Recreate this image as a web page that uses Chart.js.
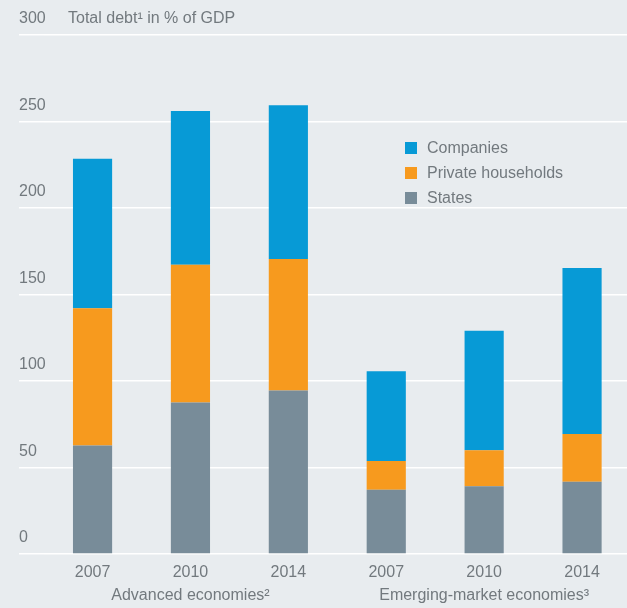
<!DOCTYPE html>
<html>
<head>
<meta charset="utf-8">
<script src="https://cdn.jsdelivr.net/npm/chart.js@4"></script>
<style>
    html, body {
        margin: 0;
        padding: 0;
        background: #e8ecef;
        overflow: hidden;
    }
    #wrap {
        width: 631px;
        height: 608px;
    }
</style>
</head>
<body>
<div id="wrap"><canvas id="chart"></canvas></div>
<script>
    const years = ["2007", "2010", "2014", "2007", "2010", "2014"];
    const groups = ["", "Advanced economies²", "", "", "Emerging-market economies³", ""];

    const states = [62.7, 87.6, 94.5, 37.2, 39.2, 41.8];
    const households = [79.3, 79.6, 76.0, 16.6, 20.8, 27.6];
    const companies = [86.4, 88.8, 88.9, 51.9, 69.1, 95.9];

    const yTicks = [0, 50, 100, 150, 200, 250, 300];

    const textColor = '#72797e';
    const fontFamily = '"Liberation Sans", Arial, sans-serif';

    // title and legend are drawn by hand, the legend sits inside the plot
    const extras = {
        id: 'extras',
        afterDraw(chart) {
            const ctx = chart.ctx;
            const area = chart.chartArea;
            ctx.save();
            ctx.font = '16px ' + fontFamily;
            ctx.fillStyle = textColor;
            ctx.textAlign = 'left';
            ctx.textBaseline = 'middle';
            ctx.fillText('Total debt¹ in % of GDP', 68, area.top - 16);

            const items = chart.data.datasets.slice().reverse();
            items.forEach((ds, i) => {
                const y = 148 + i * 25;
                ctx.fillStyle = ds.backgroundColor;
                ctx.fillRect(405, y - 6, 12, 12);
                ctx.fillStyle = textColor;
                ctx.fillText(ds.label, 427, y + 1);
            });
            ctx.restore();
        }
    };

    new Chart(
        document.getElementById("chart"),
        {
            type: 'bar',
            data: {
                labels: years.map((y, i) => [y, groups[i]]),
                datasets: [
                    {
                        label: 'States',
                        data: states,
                        backgroundColor: '#788c99'
                    },
                    {
                        label: 'Private households',
                        data: households,
                        backgroundColor: '#f79a1e'
                    },
                    {
                        label: 'Companies',
                        data: companies,
                        backgroundColor: '#079ad6'
                    }
                ]
            },
            options: {
                responsive: true,
                maintainAspectRatio: false,
                animation: false,
                datasets: {
                    bar: {
                        barPercentage: 0.4,
                        categoryPercentage: 1,
                        borderWidth: 0
                    }
                },
                layout: {
                    padding: {
                        top: 35,
                        left: 19,
                        right: 0,
                        bottom: 0
                    }
                },
                scales: {
                    x: {
                        stacked: true,
                        grid: {
                            display: false,
                            drawTicks: false
                        },
                        border: {
                            display: false
                        },
                        ticks: {
                            color: textColor,
                            padding: 7,
                            maxRotation: 0,
                            autoSkip: false,
                            font: {
                                family: fontFamily,
                                size: 16,
                                lineHeight: 1.45
                            }
                        },
                        afterFit(scale) {
                            scale.height = 54;
                        }
                    },
                    y: {
                        stacked: true,
                        min: 0,
                        max: 300,
                        afterBuildTicks(scale) {
                            scale.ticks = yTicks.map(v => ({value: v}));
                        },
                        grid: {
                            color: '#ffffff',
                            lineWidth: 1.5,
                            drawTicks: true,
                            tickLength: 24.6
                        },
                        border: {
                            display: false
                        },
                        ticks: {
                            color: textColor,
                            mirror: true,
                            padding: -24.6,
                            labelOffset: -16,
                            font: {
                                family: fontFamily,
                                size: 16
                            }
                        },
                        afterFit(scale) {
                            scale.width = 24.6;
                        }
                    }
                },
                plugins: {
                    legend: {
                        display: false
                    },
                    tooltip: {
                        enabled: false
                    }
                }
            },
            plugins: [extras]
        }
    );
</script>
</body>
</html>
